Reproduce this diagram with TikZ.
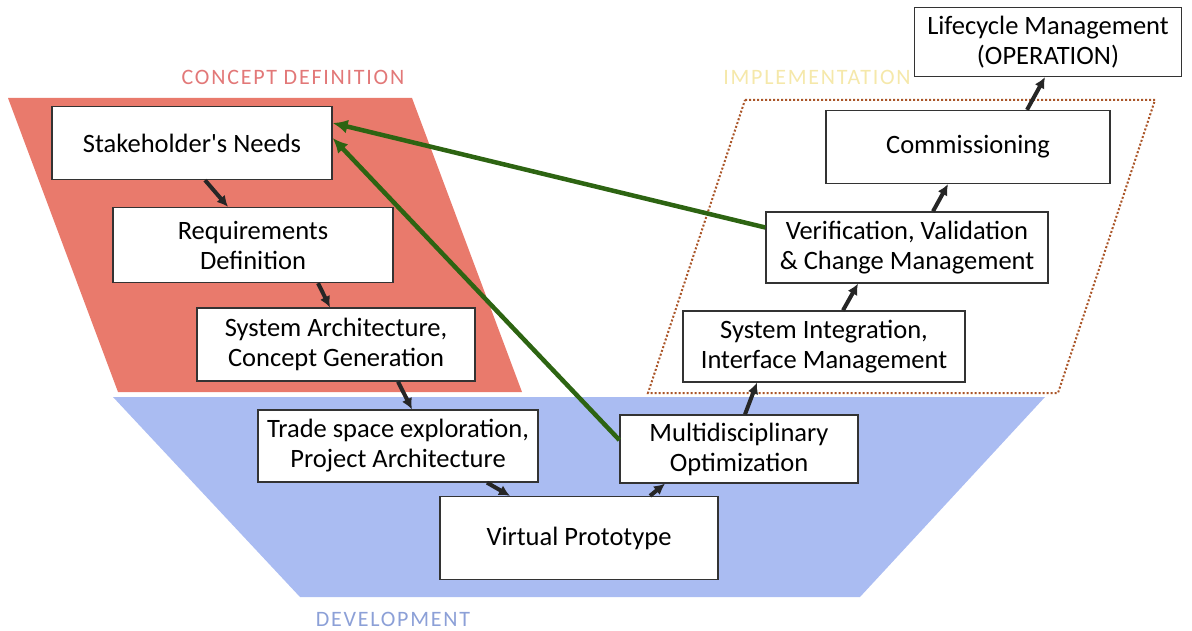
\documentclass[tikz,border=0pt]{standalone}
\usepackage{fontspec}
\setmainfont{Carlito}
\usetikzlibrary{arrows.meta}
\definecolor{conceptred}{RGB}{233,122,108}
\definecolor{devblue}{RGB}{170,188,242}
\definecolor{loopgreen}{RGB}{45,100,18}
\definecolor{dotbrown}{RGB}{170,85,40}
\definecolor{conceptlabel}{RGB}{226,120,120}
\definecolor{devlabel}{RGB}{140,160,215}
\definecolor{implabel}{RGB}{245,232,170}
\tikzset{stage/.style={draw=black!80,line width=1.3pt,fill=white,align=center,
                       font=\fontsize{26.5}{30}\selectfont,inner sep=0pt},
         flow/.style={line width=4pt,black!85,-{Latex[length=11pt,width=11pt]}},
         feedback/.style={line width=4.5pt,loopgreen,-{Latex[length=15pt,width=14pt]}},
         phase/.style={font=\fontsize{22}{24}\selectfont\addfontfeatures{LetterSpace=8}},
         }

\begin{document}
\begin{tikzpicture}[x=1pt,y=-1pt]
\useasboundingbox (0,0) rectangle (1192,631);
\fill[conceptred] (8,98) -- (412,98) -- (522,392) -- (118,392) -- cycle;
\fill[devblue] (113,397) -- (1045,397) -- (860,597) -- (300,597) -- cycle;
\draw[dotbrown,line width=2pt,dotted] (745,100) -- (1155,100) -- (1058,393) -- (648,393) -- cycle;

\node[phase,text=conceptlabel] (conceptlbl) at (293,77) {CONCEPT DEFINITION};
\node[phase,text=implabel] (implbl) at (817,77) {IMPLEMENTATION};
\node[phase,text=devlabel] (devlbl) at (393,619) {DEVELOPMENT};

\node[stage,minimum width=280pt,minimum height=73pt] (needs) at (192,143) {Stakeholder\textquotesingle s Needs};
\node[stage,minimum width=280pt,minimum height=75pt] (req) at (253,245) {Requirements\\Definition};
\node[stage,minimum width=278pt,minimum height=73pt] (arch) at (336,344.5) {System Architecture,\\Concept Generation};
\node[stage,minimum width=280pt,minimum height=72pt] (trade) at (398,446) {Trade space exploration,\\Project Architecture};
\node[stage,minimum width=278pt,minimum height=83pt] (virtual) at (579,538) {Virtual Prototype};
\node[stage,minimum width=238pt,minimum height=68pt] (multi) at (739,449) {Multidisciplinary\\Optimization};
\node[stage,minimum width=282pt,minimum height=71pt] (integ) at (824,346.5) {System Integration,\\Interface Management};
\node[stage,minimum width=282pt,minimum height=71pt] (verif) at (907,247.5) {Verification, Validation\\\& Change Management};
\node[stage,minimum width=284pt,minimum height=73pt] (comm) at (968,147) {Commissioning};
\node[stage,minimum width=267pt,minimum height=69pt] (life) at (1048,42) {Lifecycle Management\\(OPERATION)};

\draw[flow] ([xshift=13pt]needs.south) -- ([xshift=-25pt]req.north);
\draw[flow] ([xshift=65pt]req.south) -- ([xshift=-6pt]arch.north);
\draw[flow] ([xshift=62pt]arch.south) -- ([xshift=14pt]trade.north);
\draw[flow] ([xshift=89pt]trade.south) -- ([xshift=-69pt]virtual.north);
\draw[flow] ([xshift=71pt]virtual.north) -- ([xshift=-74pt]multi.south);
\draw[flow] ([xshift=6pt]multi.north) -- ([xshift=-67pt]integ.south);
\draw[flow] ([xshift=19pt]integ.north) -- ([xshift=-49pt]verif.south);
\draw[flow] ([xshift=26pt]verif.north) -- ([xshift=-20pt]comm.south);
\draw[flow] ([xshift=59pt]comm.north) -- ([xshift=-3pt]life.south);

\draw[feedback] ([yshift=20pt]verif.west) -- ([yshift=20pt]needs.east);
\draw[feedback] ([yshift=9pt]multi.west) -- ([yshift=5pt]needs.east);
\end{tikzpicture}
\end{document}
